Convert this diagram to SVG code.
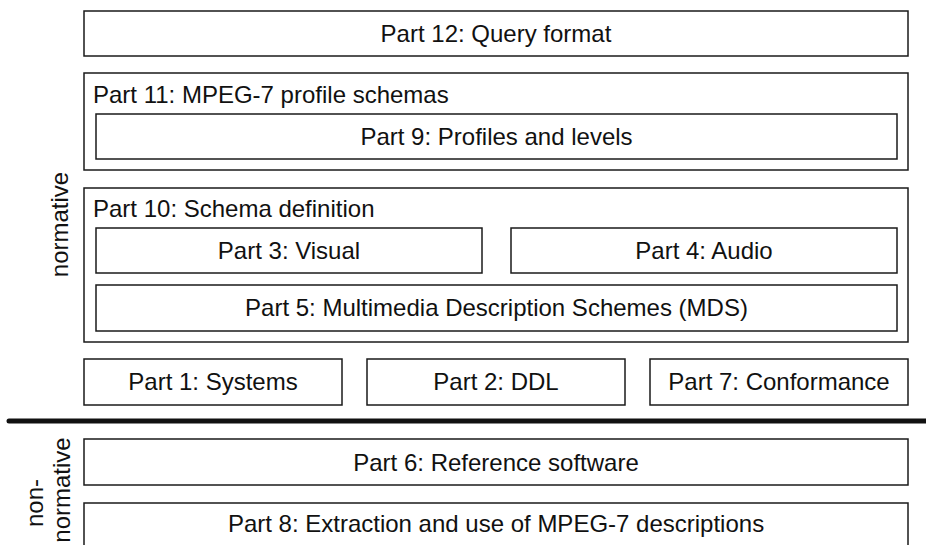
<svg xmlns="http://www.w3.org/2000/svg" width="926" height="545" viewBox="0 0 926 545">
<style>
rect{fill:#fff;stroke:#1a1a1a;stroke-width:1.5}
text{font-family:"Liberation Sans",Arial,sans-serif;font-size:24px;fill:#111}
.c{text-anchor:middle}
</style>
<rect x="0" y="0" width="926" height="545" style="stroke:none"/>
<g id="part12"><rect x="84" y="11" width="824" height="45"/><text class="c" x="496" y="42">Part 12: Query format</text></g>
<g id="part11"><rect x="84" y="73" width="824" height="97"/><text x="93" y="103">Part 11: MPEG-7 profile schemas</text></g>
<g id="part9"><rect x="96" y="114" width="801" height="45"/><text class="c" x="496.5" y="144.5">Part 9: Profiles and levels</text></g>
<g id="part10"><rect x="84" y="188" width="824" height="154"/><text x="93" y="217">Part 10: Schema definition</text></g>
<g id="part3"><rect x="96" y="228" width="386" height="45"/><text class="c" x="289" y="258.5">Part 3: Visual</text></g>
<g id="part4"><rect x="511" y="228" width="386" height="45"/><text class="c" x="704" y="258.5">Part 4: Audio</text></g>
<g id="part5"><rect x="96" y="285" width="801" height="46"/><text class="c" x="496.5" y="316">Part 5: Multimedia Description Schemes (MDS)</text></g>
<g id="part1"><rect x="84" y="359" width="258" height="46"/><text class="c" x="213" y="390">Part 1: Systems</text></g>
<g id="part2"><rect x="367" y="359" width="258" height="46"/><text class="c" x="496" y="390">Part 2: DDL</text></g>
<g id="part7"><rect x="650" y="359" width="258" height="46"/><text class="c" x="779" y="390">Part 7: Conformance</text></g>
<g id="part6"><rect x="84" y="439" width="824" height="46"/><text class="c" x="496" y="470.5">Part 6: Reference software</text></g>
<g id="part8"><rect x="84" y="503" width="824" height="50"/><text class="c" x="496" y="532">Part 8: Extraction and use of MPEG-7 descriptions</text></g>
<g id="connectors"><line x1="9" y1="421" x2="926" y2="421" stroke="#111" stroke-width="5" stroke-linecap="round"/></g>
<g id="labels">
<text class="c" transform="translate(68,224.5) rotate(-90)">normative</text>
<text class="c" transform="translate(43,503) rotate(-90)">non-</text>
<text class="c" transform="translate(70,490) rotate(-90)">normative</text>
</g>
</svg>
